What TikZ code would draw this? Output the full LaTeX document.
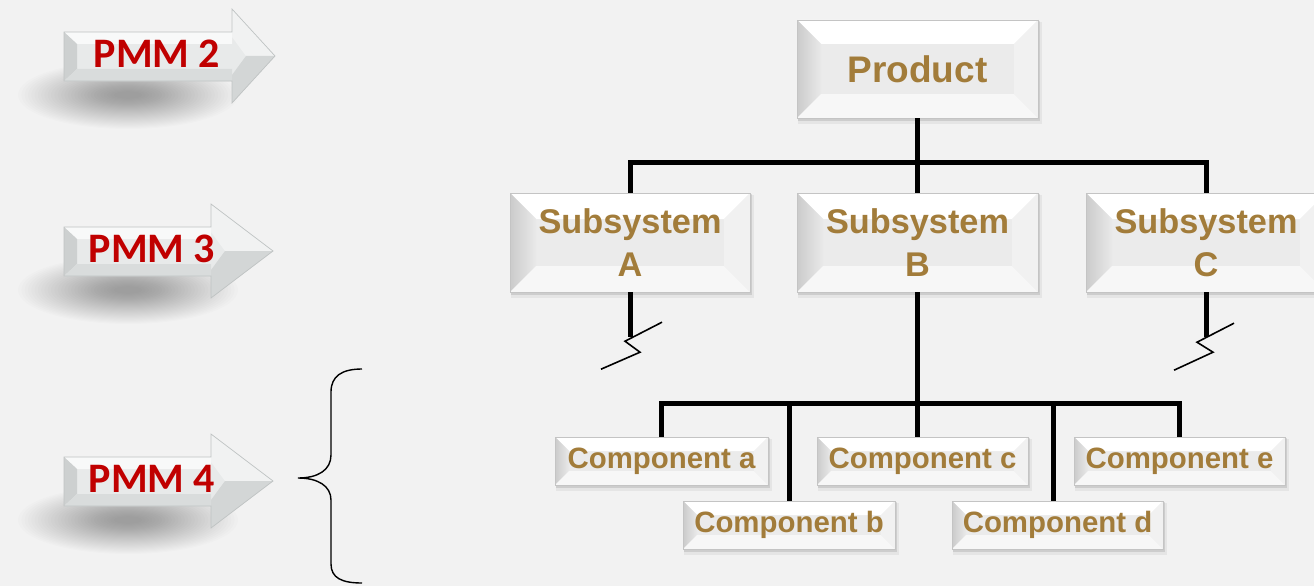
\documentclass[tikz,border=0pt]{standalone}
\usepackage{fontspec}
\newfontfamily\lsans{Liberation Sans}
\newfontfamily\carl{Carlito}
\definecolor{bg}{HTML}{F2F2F2}
\definecolor{gold}{HTML}{A27C3A}
\definecolor{pmmred}{HTML}{C00000}
\definecolor{edge}{HTML}{C4C4C4}
\definecolor{face}{HTML}{EBEBEB}
\definecolor{bevL}{HTML}{CBCBCB}
\definecolor{bevLL}{HTML}{E9E9E9}
\definecolor{bevB}{HTML}{F7F7F7}
\definecolor{bevR}{HTML}{F1F1F1}
\definecolor{arrface}{HTML}{E8EAEA}
\definecolor{arrtop}{HTML}{F8F9F9}
\definecolor{arrleft}{HTML}{CDD0D0}
\definecolor{arrbot}{HTML}{D9DCDC}
\definecolor{headup}{HTML}{F1F2F2}
\definecolor{headlow}{HTML}{D3D6D6}
\definecolor{arredge}{HTML}{BFC3C3}
\tikzset{
  conn/.style={line width=5pt, line join=miter, black},
  brk/.style={line width=1.6pt, black},
  boxtext/.style={text=gold, align=center, inner sep=0pt},
  pmmtext/.style={text=pmmred, inner sep=0pt, font={\carl\bfseries\fontsize{42}{50}\selectfont}},
  bracestyle/.style={line width=1.4pt, black}
}
% name, x1, y1, x2, y2, bevel, font, text
\newcommand{\bevelbox}[8]{%
  \fill[black,opacity=0.05] (#2+1,#3+2) rectangle (#4+4,#5+6);
  \fill[black,opacity=0.10] (#2+1,#3+1) rectangle (#4+2,#5+3);
  \fill[face] (#2,#3) rectangle (#4,#5);
  \fill[white] (#2,#3) -- (#4,#3) -- (#4-#6,#3+#6) -- (#2+#6,#3+#6) -- cycle;
  \shade[left color=bevL, right color=bevLL] (#2,#3) -- (#2+#6,#3+#6) -- (#2+#6,#5-#6) -- (#2,#5) -- cycle;
  \fill[bevB] (#2,#5) -- (#2+#6,#5-#6) -- (#4-#6,#5-#6) -- (#4,#5) -- cycle;
  \fill[bevR] (#4,#3) -- (#4,#5) -- (#4-#6,#5-#6) -- (#4-#6,#3+#6) -- cycle;
  \draw[edge,line width=0.6pt] (#2,#3) rectangle (#4,#5);
  \node[boxtext,font={#7},minimum width={(#4-#2)*1pt},minimum height={(#5-#3)*1pt}] (#1) at ({(#2+#4)/2},{(#3+#5)/2}) {#8};
}
% name, head top y, head base x, tip x, text, text x
\newcommand{\pmmarrow}[6]{%
  \foreach \i in {0,...,29}
    \fill[black,opacity=0.012] (128,#2+86) ellipse [x radius={(110-3.3*\i)*1pt}, y radius={(34-1.05*\i)*1pt}];
  \fill[arrface] (64,#2+23) -- (#3,#2+23) -- (#3,#2) -- (#4,#2+47) -- (#3,#2+94) -- (#3,#2+72) -- (64,#2+72) -- cycle;
  \fill[arrtop] (64,#2+23) -- (#3,#2+23) -- (#3,#2+35) -- (77,#2+35) -- cycle;
  \fill[arrleft] (64,#2+23) -- (77,#2+35) -- (77,#2+60) -- (64,#2+72) -- cycle;
  \fill[arrbot] (64,#2+72) -- (77,#2+60) -- (#3,#2+60) -- (#3,#2+72) -- cycle;
  \fill[headup] (#3,#2) -- (#4,#2+47) -- (#3+14,#2+47) -- (#3,#2+28) -- cycle;
  \fill[headlow] (#3,#2+94) -- (#4,#2+47) -- (#3+14,#2+47) -- (#3,#2+66) -- cycle;
  \draw[arredge,line width=0.7pt] (64,#2+23) -- (#3,#2+23) -- (#3,#2) -- (#4,#2+47) -- (#3,#2+94) -- (#3,#2+72) -- (64,#2+72) -- cycle;
  \node[pmmtext] (#1) at (#6,#2+45) {#5};
}
\begin{document}
\begin{tikzpicture}[x=1pt,y=-1pt]
\fill[bg] (0,0) rectangle (1314,586);
\useasboundingbox (0,0) rectangle (1314,586);
\clip (0,0) rectangle (1314,586);

% PMM arrows
\pmmarrow{pmm2}{9}{232}{275}{PMM 2}{157}
\pmmarrow{pmm3}{204}{211}{273}{PMM 3}{152}
\pmmarrow{pmm4}{434}{211}{273}{PMM 4}{152}

% brace
\draw[bracestyle] (362,369) .. controls (342,369) and (331,376) .. (331,392) -- (331,455)
  .. controls (331,470) and (318,478) .. (298,478)
  .. controls (318,478) and (331,486) .. (331,500) -- (331,564)
  .. controls (331,578) and (342,583) .. (362,583);

% boxes
\def\bigfont{\lsans\bfseries\fontsize{37}{44}\selectfont}
\def\subfont{\lsans\bfseries\fontsize{34.3}{43}\selectfont}
\def\compfont{\lsans\bfseries\fontsize{29.4}{34}\selectfont}
\bevelbox{prod}{797}{20}{1038}{118}{24}{\bigfont}{Product}
\bevelbox{subA}{510}{193}{750}{292}{26}{\subfont}{Subsystem\\A}
\bevelbox{subB}{797}{193}{1038}{292}{26}{\subfont}{Subsystem\\B}
\bevelbox{subC}{1086}{193}{1326}{292}{26}{\subfont}{Subsystem\\C}
\bevelbox{compa}{555}{437}{768}{485}{14}{\compfont}{Component a}
\bevelbox{compb}{683}{501}{895}{549}{14}{\compfont}{Component b}
\bevelbox{compc}{817}{437}{1028}{485}{14}{\compfont}{Component c}
\bevelbox{compd}{952}{501}{1163}{549}{14}{\compfont}{Component d}
\bevelbox{compe}{1074}{437}{1285}{485}{14}{\compfont}{Component e}

% connectors
\draw[conn] (prod.south) -- ++(0,44) coordinate (bus1);
\draw[conn] (subA.north) |- (bus1) -| (subC.north);
\draw[conn] (subB.north) -- (bus1);
\draw[conn] (subB.south) -- ++(0,111) coordinate (bus2);
\draw[conn] (compa.north) |- (bus2) -| (compe.north);
\draw[conn] (bus2) -- (bus2 |- compc.north);
\draw[conn] (compb.north) -- (compb.north |- bus2);
\draw[conn] (compd.north) ++(-4,0) -- ++(0,-98);

% breaks
\draw[conn] (subA.south) -- ++(0,45) coordinate (brA);
\draw[brk] (brA) ++(32,-15) -- ++(-37,19) -- ++(15,11) -- ++(-39,17);
\draw[conn] (subC.south) -- ++(0,45) coordinate (brC);
\draw[brk] (brC) ++(28,-14) -- ++(-37,19) -- ++(16,10) -- ++(-39,18);
\end{tikzpicture}
\end{document}
